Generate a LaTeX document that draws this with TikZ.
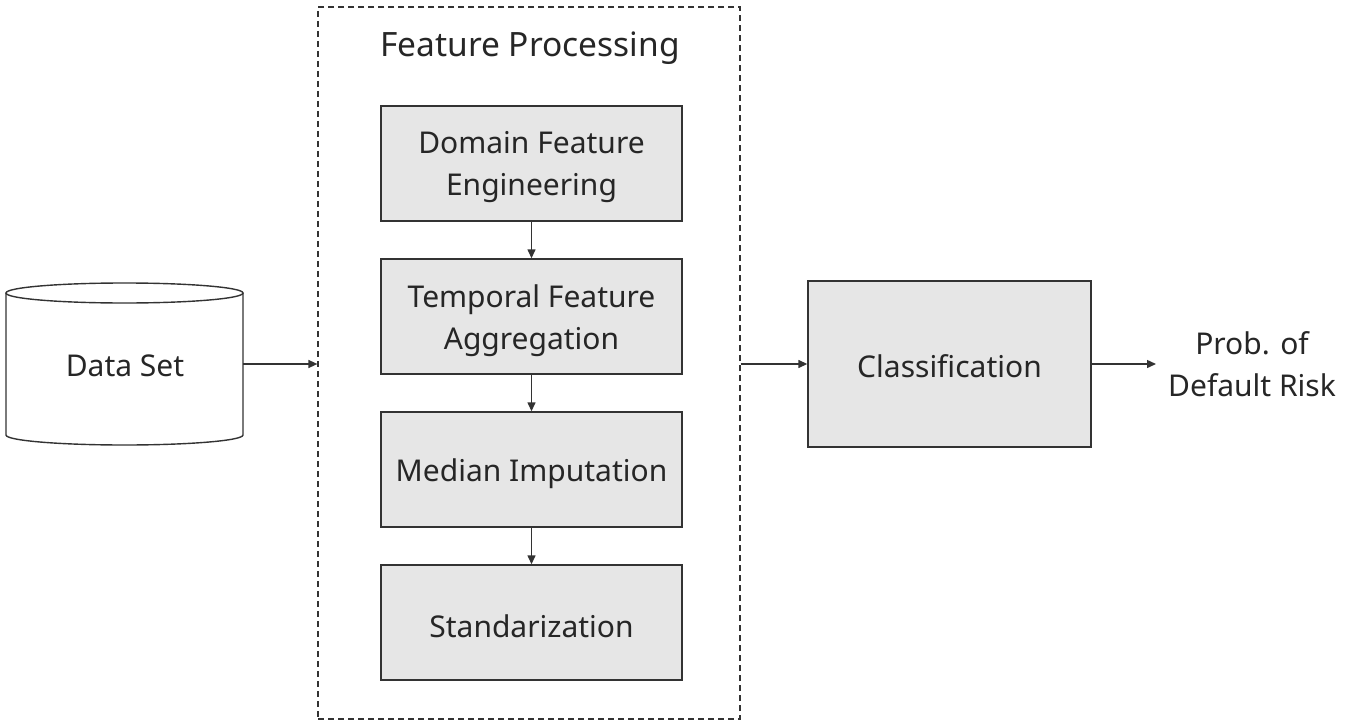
\documentclass[tikz,border=0pt]{standalone}
\usepackage{fontspec}
\setmainfont{Noto Sans}
\usetikzlibrary{arrows.meta}
\definecolor{ln}{HTML}{333333}
\definecolor{bx}{HTML}{E6E6E6}
\begin{document}
\begin{tikzpicture}[x=1pt,y=-1pt,
  every node/.style={font=\fontsize{30}{42}\selectfont, text=black!85},
  procbox/.style={draw=ln, line width=1.4pt, fill=bx, minimum width=301pt, minimum height=115pt, inner sep=0pt},
  lbl/.style={align=center, inner sep=0pt, yshift=-4pt},
  conn/.style={draw=ln, line width=1.4pt, -{Triangle[length=9pt,width=8pt]}}
]
\useasboundingbox (0,0) rectangle (1348,722);
% dashed frame
\node[draw=ln, line width=1.2pt, dash pattern=on 6pt off 4pt, minimum width=422pt, minimum height=712pt, inner sep=0pt] (frame) at (529,363) {};
\node[font=\fontsize{33.5}{40}\selectfont] (title) at (530,48) {Feature Processing};
% cylinder
\draw[ln, line width=1.4pt, fill=white] (6,293) -- (6,435) arc[start angle=180, end angle=360, x radius=118.5pt, y radius=10pt] -- (243,293);
\draw[ln, line width=1.4pt, fill=white] (124.5,293) ellipse[x radius=118.5pt, y radius=10pt];
\coordinate (dsr) at (243,364);
\node (ds) at (125,366) {Data Set};
% boxes
\node[procbox] (b1) at (531.5,163.5) {};
\node[procbox] (b2) at (531.5,316.5) {};
\node[procbox] (b3) at (531.5,469.5) {};
\node[procbox] (b4) at (531.5,622.5) {};
\node[lbl] (t1) at (b1) {Domain Feature\\Engineering};
\node[lbl] (t2) at (b2) {Temporal Feature\\Aggregation};
\node[lbl] (t3) at (b3) {Median Imputation};
\node[lbl] (t4) at (b4) {Standarization};
\node[procbox, minimum width=283pt, minimum height=166pt] (cls) at (949.5,364) {};
\node[lbl, yshift=2pt] (tc) at (cls) {Classification};
\node[align=center, inner sep=0pt] (out) at (1252,364) {Prob. of\\Default Risk};
\coordinate (outl) at (1156,364);
% connectors
\draw[conn] (dsr) -- (frame.west |- dsr);
\draw[conn] (b1) -- (b2);
\draw[conn] (b2) -- (b3);
\draw[conn] (b3) -- (b4);
\draw[conn] (frame.east |- cls.west) -- (cls.west);
\draw[conn] (cls.east) -- (outl);
\end{tikzpicture}
\end{document}
